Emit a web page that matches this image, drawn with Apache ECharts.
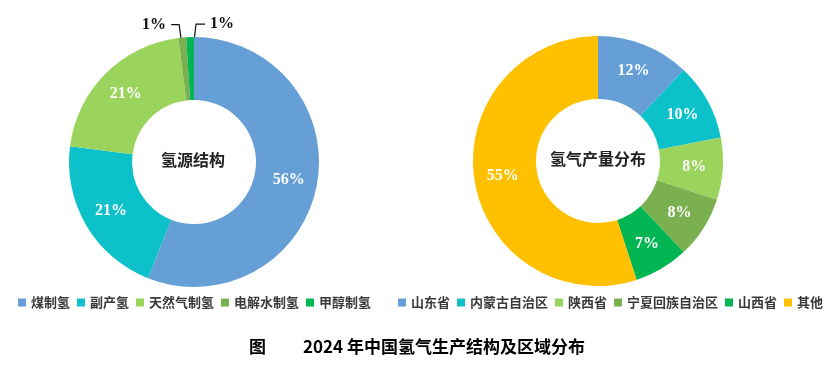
<!DOCTYPE html>
<html><head><meta charset="utf-8">
<script src="https://cdn.jsdelivr.net/npm/echarts@6/dist/echarts.min.js"></script>
<style>html,body{margin:0;padding:0;background:#fff}#c{width:831px;height:367px}</style>
</head><body><div id="c"></div>
<script>
const sourceNames = ['煤制氢','副产氢','天然气制氢','电解水制氢','甲醇制氢'];
const sourceValues = [56, 21, 21, 1, 1];
const sourceColors = ['#659fd5','#0dc1cb','#9bd45c','#7ab04f','#00b552'];
const regionNames = ['山东省','内蒙古自治区','陕西省','宁夏回族自治区','山西省','其他'];
const regionValues = [12, 10, 8, 8, 7, 55];
const regionColors = ['#659fd5','#0dc1cb','#9bd45c','#7ab04f','#00b552','#ffc000'];
const centerTitles = ['氢源结构','氢气产量分布'];
const captionFig = '图';
const captionText = '2024 年中国氢气生产结构及区域分布';

const chart = echarts.init(document.getElementById('c'));
const C1 = [194, 162], C2 = [598, 161], R = [62, 125];
const numFont = {color:'#fff', fontFamily:'"Liberation Serif","Times New Roman",serif', fontWeight:'bold', fontSize:16};

function smallLayout(params){
  const i = params.dataIndex;
  if (i < 3 || !params.labelLinePoints) return {};
  const p0 = params.labelLinePoints[0];
  const midR = (R[0]+R[1])/2 + 1;
  const dx = p0[0]-C1[0], dy = p0[1]-C1[1];
  const len = Math.sqrt(dx*dx+dy*dy);
  const s = [C1[0]+dx/len*midR, C1[1]+dy/len*midR];
  const ly = p0[1]-13;
  if (i === 3) {
    return {x: s[0]-19, y: ly, align:'right', verticalAlign:'middle',
      labelLinePoints: [s, [s[0]-6, ly], [s[0]-14, ly]]};
  }
  return {x: s[0]+19, y: ly, align:'left', verticalAlign:'middle',
    labelLinePoints: [s, [s[0]+5, ly], [s[0]+14, ly]]};
}

const sourceData = sourceNames.map((n,i)=>{
  const d = {name:n, value:sourceValues[i], itemStyle:{color:sourceColors[i]}};
  if (sourceValues[i] < 3) {
    d.label = {position:'outside', color:'#111'};
    d.labelLine = {show:true, lineStyle:{color:'#111', width:1.2}};
  }
  return d;
});
const regionData = regionNames.map((n,i)=>({name:n, value:regionValues[i], itemStyle:{color:regionColors[i]}}));

const legendText = {fontSize:13, fontWeight:'bold', color:'#3a3a3a', fontFamily:'"Noto Sans CJK SC",sans-serif'};

chart.setOption({
  animation:false,
  legend:[
    {data:sourceNames, left:13, top:291, icon:'rect', itemWidth:8, itemHeight:8, itemGap:7, textStyle:legendText, selectedMode:false},
    {data:regionNames, left:393, top:291, icon:'rect', itemWidth:8, itemHeight:8, itemGap:7, textStyle:legendText, selectedMode:false}
  ],
  graphic:[
    {type:'text', left: C1[0]-33, top: C1[1]-10, style:{text:centerTitles[0], fontSize:16, fontWeight:'bold', fill:'#222', fontFamily:'"Noto Sans CJK SC",serif'}},
    {type:'text', left: C2[0]-48, top: C2[1]-10, style:{text:centerTitles[1], fontSize:16, fontWeight:'bold', fill:'#222', fontFamily:'"Noto Sans CJK SC",serif'}},
    {type:'text', left:249, top:338, style:{text:captionFig, fontSize:17, fontWeight:'bold', fill:'#000', fontFamily:'"Noto Sans CJK SC",sans-serif'}},
    {type:'text', left:303, top:338, style:{text:captionText, fontSize:17, fontWeight:'bold', fill:'#000', fontFamily:'"Noto Sans CJK SC",sans-serif'}}
  ],
  series:[
    {type:'pie', center:C1, radius:R, startAngle:90, clockwise:true, avoidLabelOverlap:false,
     label:{show:true, position:'inside', formatter:'{c}%', ...numFont},
     labelLine:{show:false}, labelLayout: smallLayout,
     emphasis:{disabled:true}, data:sourceData},
    {type:'pie', center:C2, radius:R, startAngle:90, clockwise:true,
     label:{show:true, position:'inside', formatter:'{c}%', ...numFont},
     labelLine:{show:false}, emphasis:{disabled:true}, data:regionData}
  ]
});
</script></body></html>
